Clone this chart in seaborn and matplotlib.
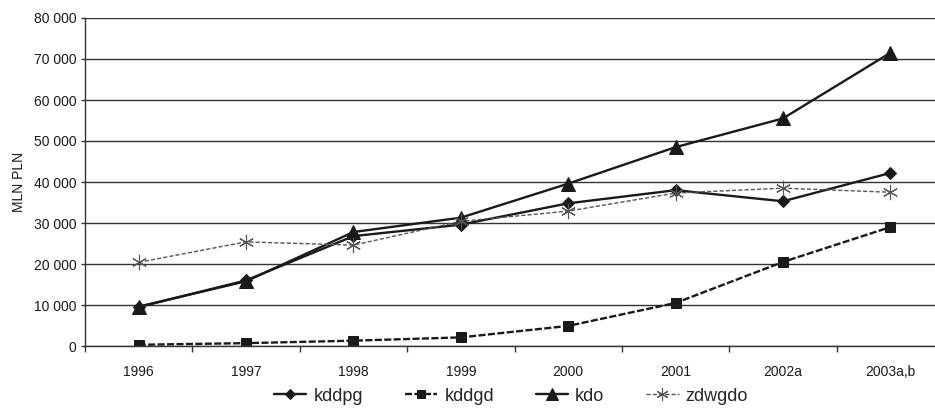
import matplotlib
matplotlib.use("Agg")
import matplotlib.pyplot as plt
import seaborn as sns
import numpy as np
from matplotlib.ticker import FuncFormatter, FixedLocator

years = ["1996", "1997", "1998", "1999", "2000", "2001", "2002a", "2003a,b"]
kddpg = [9500, 16000, 26800, 29600, 34800, 38000, 35300, 42200]
kddgd = [300, 700, 1300, 2100, 4900, 10500, 20500, 29000]
kdo = [9600, 15800, 27800, 31300, 39600, 48500, 55500, 71500]
zdwgdo = [20400, 25400, 24600, 30400, 32900, 37300, 38500, 37500]

sns.set_theme(style="white")
plt.rcParams['font.family'] = ['Liberation Sans', 'DejaVu Sans']

fig = plt.figure(figsize=(9.35, 4.19), dpi=100)
ax = fig.add_axes([85/935, 1-346/419, (944-85)/935, (346-18)/419])

x = np.arange(len(years))

sns.lineplot(x=x, y=kddpg, ax=ax, color="#1a1a1a", lw=1.7, marker="D", markersize=6,
             markeredgecolor="#1a1a1a", label="kddpg")
sns.lineplot(x=x, y=kddgd, ax=ax, color="#1a1a1a", lw=1.7, marker="s", markersize=7,
             markeredgecolor="#1a1a1a", label="kddgd", linestyle=(0, (3, 1)))
sns.lineplot(x=x, y=kdo, ax=ax, color="#1a1a1a", lw=1.7, marker="^", markersize=10,
             markeredgecolor="#1a1a1a", label="kdo")
sns.lineplot(x=x, y=zdwgdo, ax=ax, color="#555555", lw=1.0, marker=(6, 2, 0), markersize=11,
             markeredgewidth=0.8, markeredgecolor="#555555", label="zdwgdo", linestyle=(0, (3, 1.5)))

ax.set_xlim(-0.5, len(years) - 0.5)
ax.set_ylim(0, 80000)
ax.set_yticks(np.arange(0, 80001, 10000))
ax.yaxis.set_major_formatter(FuncFormatter(lambda v, p: f"{int(v):,}".replace(",", " ")))
ax.set_xticks(x)
ax.set_xticklabels(years)
ax.xaxis.set_minor_locator(FixedLocator(np.arange(-0.5, len(years), 1.0)))
ax.tick_params(axis="x", which="major", length=0, labelsize=10, pad=14, colors="#1a1a1a")
ax.tick_params(axis="x", which="minor", length=4, width=1, color="#333333", direction="out", bottom=True)
ax.tick_params(axis="y", length=3, width=1, color="#333333", direction="out", left=True,
               labelsize=10, pad=3, labelcolor="#1a1a1a")

ax.grid(axis="y", color="#333333", lw=1.0)
ax.set_axisbelow(True)
for s in ["top", "right"]:
    ax.spines[s].set_visible(False)
for s in ["left", "bottom"]:
    ax.spines[s].set_color("#333333")
    ax.spines[s].set_linewidth(1.0)

ax.set_ylabel("MLN PLN", fontsize=10, color="#1a1a1a", labelpad=6)
ax.set_xlabel("")

ax.legend(loc="center", bbox_to_anchor=(511/935, 1-396/419), bbox_transform=fig.transFigure,
          ncol=4, frameon=False, fontsize=13, handlelength=1.8, columnspacing=2.3,
          handletextpad=0.4, markerscale=0.8)

fig.savefig("out.png", dpi=100)
